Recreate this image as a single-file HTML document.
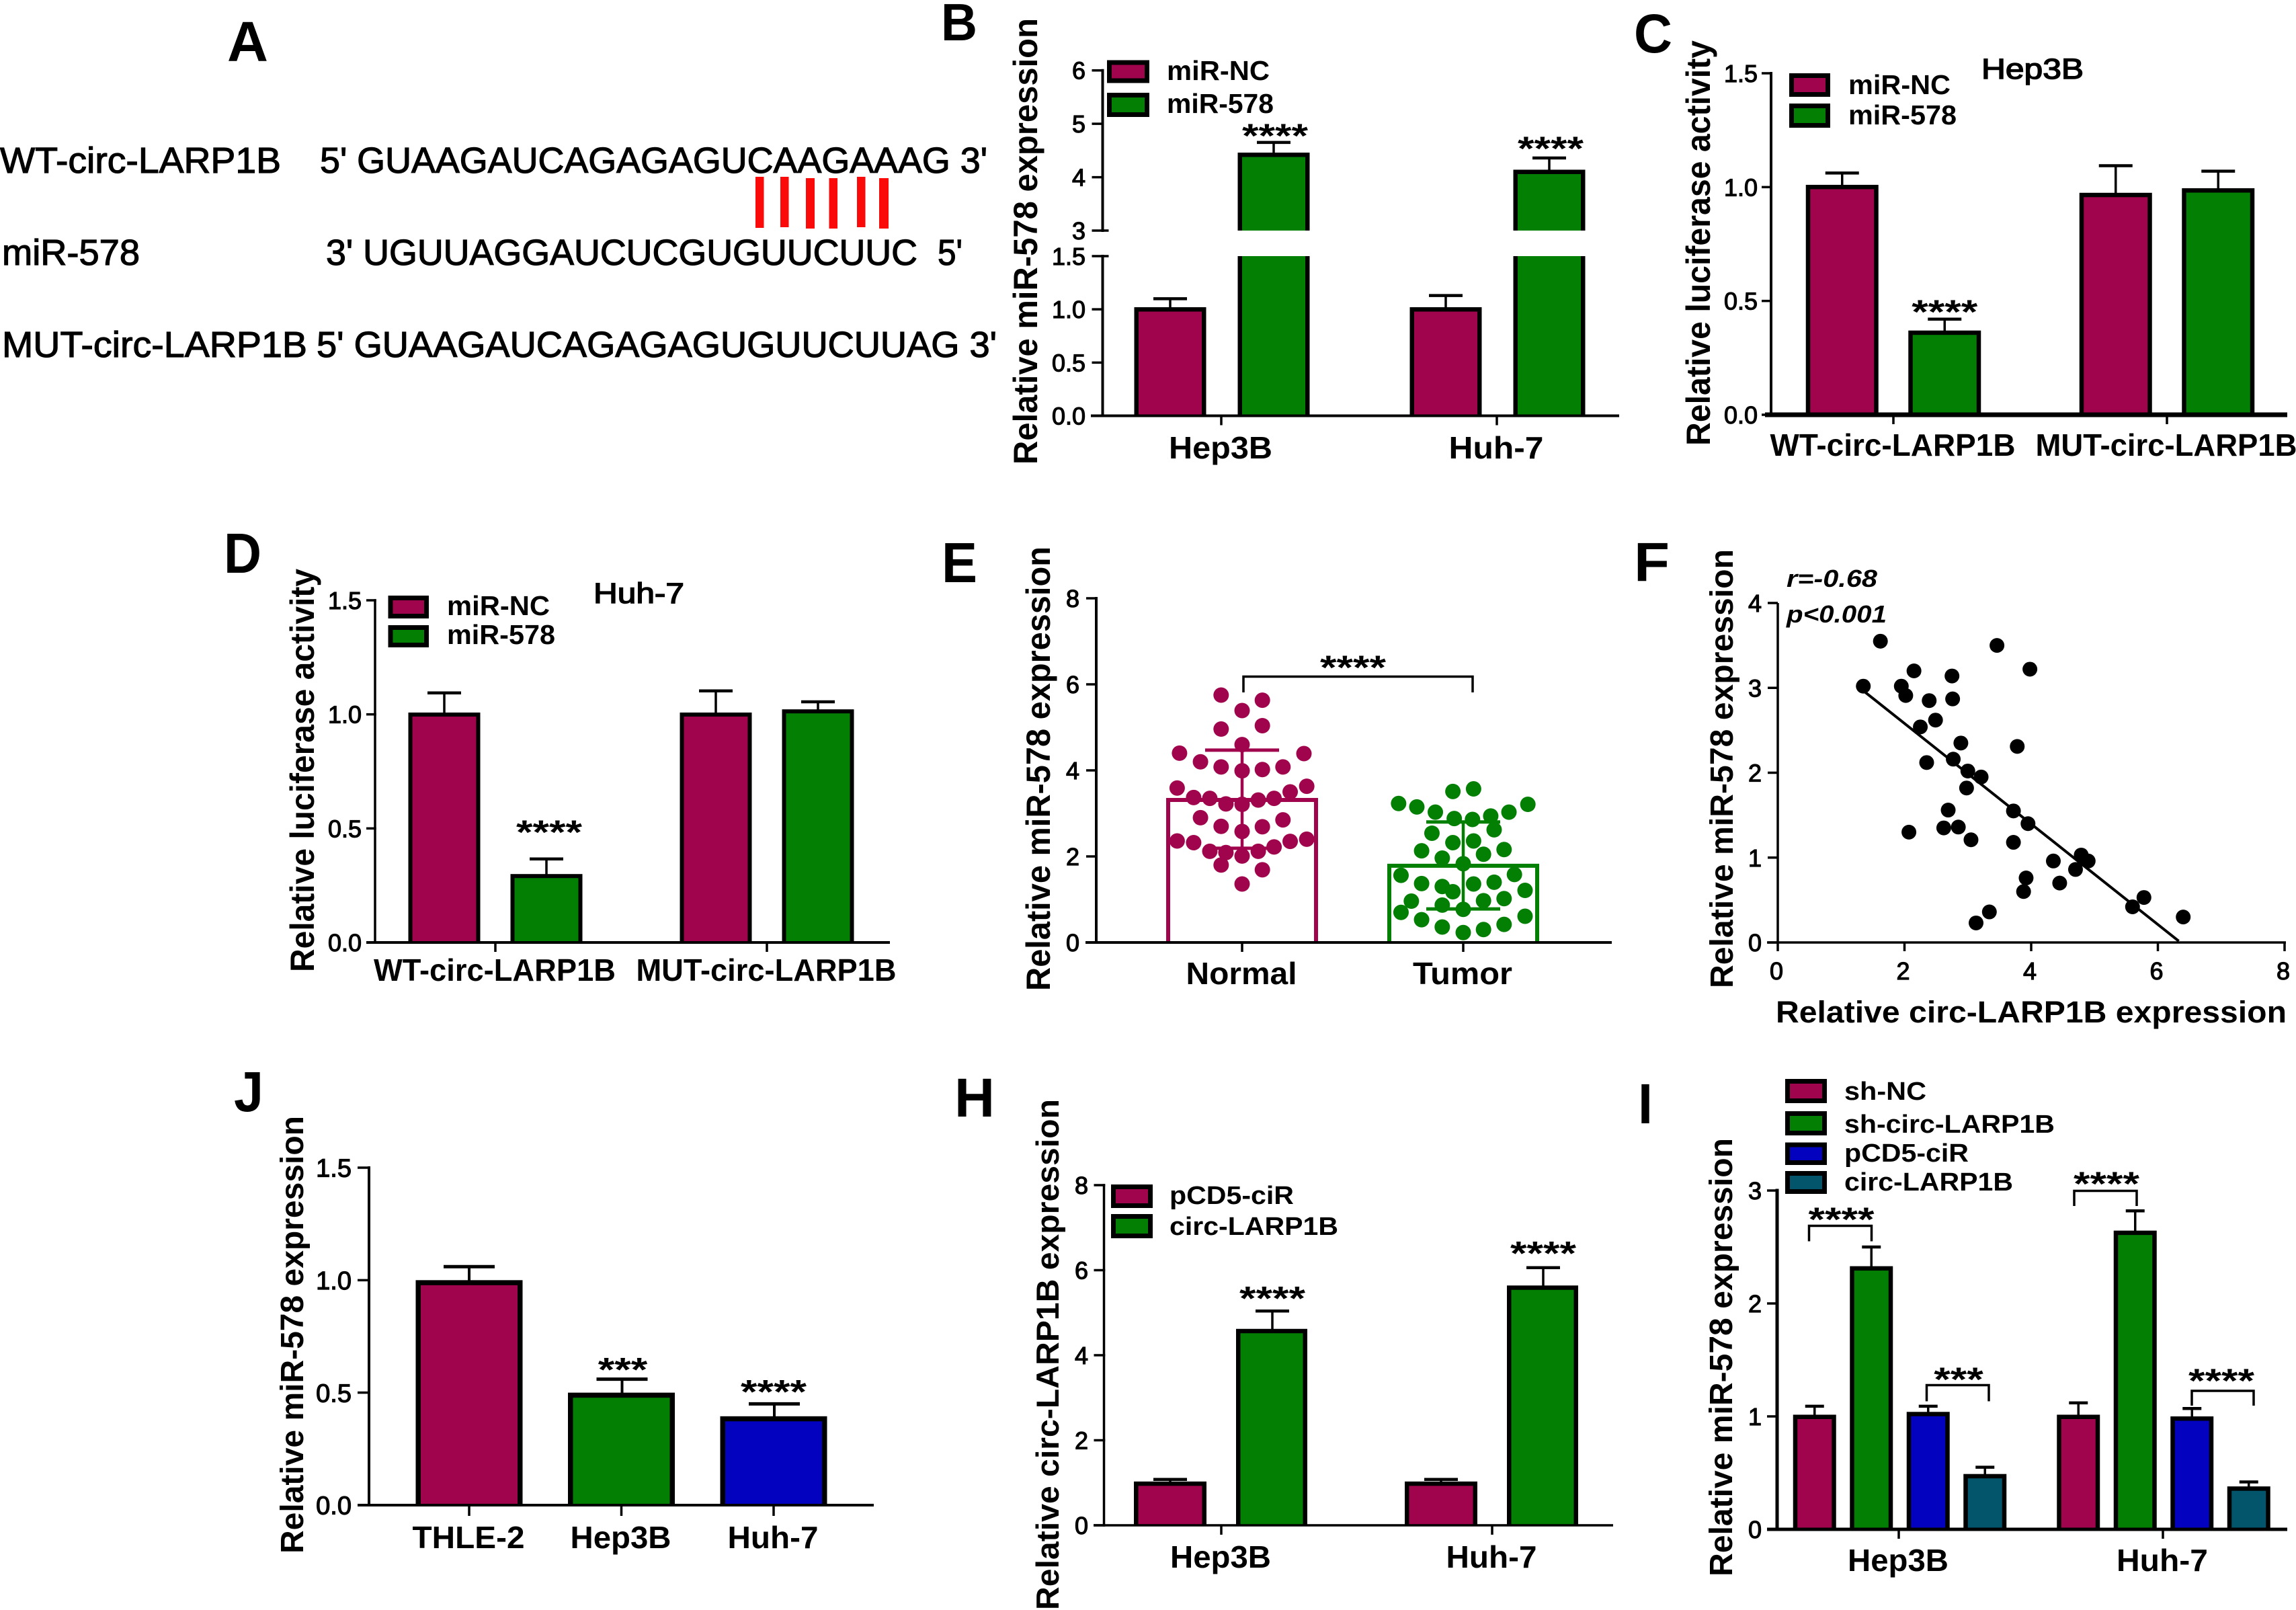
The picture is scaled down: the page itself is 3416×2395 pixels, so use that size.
<!DOCTYPE html>
<html lang="en">
<head>
<meta charset="utf-8">
<title>circ-LARP1B and miR-578 figure panels</title>
<style>
html,body{margin:0;padding:0;background:#fff}
svg{display:block}
text{font-family:"Liberation Sans",Arial,sans-serif;fill:#000}
.b{font-weight:700}
.m{font-weight:400;stroke:#000;stroke-width:1.2px}
.h{font-weight:400;stroke:#000;stroke-width:1.5px}
</style>
</head>
<body>
<svg id="figure" xmlns="http://www.w3.org/2000/svg" width="3416" height="2395" viewBox="0 0 3416 2395">
<rect x="0" y="0" width="3416" height="2395" fill="#fff"/>

<g>
<text class="b" x="338" y="91" font-size="84" textLength="61" lengthAdjust="spacingAndGlyphs">A</text>
<text class="b" x="1400" y="60" font-size="78" textLength="54" lengthAdjust="spacingAndGlyphs">B</text>
<text class="b" x="2431" y="78" font-size="82" textLength="57" lengthAdjust="spacingAndGlyphs">C</text>
<text class="b" x="333" y="852" font-size="84" textLength="56" lengthAdjust="spacingAndGlyphs">D</text>
<text class="b" x="1401" y="866" font-size="84" textLength="53" lengthAdjust="spacingAndGlyphs">E</text>
<text class="b" x="2431" y="864" font-size="82" textLength="53" lengthAdjust="spacingAndGlyphs">F</text>
<text class="b" x="348" y="1653" font-size="84" textLength="44" lengthAdjust="spacingAndGlyphs">J</text>
<text class="b" x="1420" y="1661" font-size="82" textLength="60" lengthAdjust="spacingAndGlyphs">H</text>
<text class="b" x="2437" y="1671" font-size="84" textLength="22" lengthAdjust="spacingAndGlyphs">I</text>
</g>

<g>
<text class="m" x="0" y="257" font-size="54" textLength="418" lengthAdjust="spacingAndGlyphs">WT-circ-LARP1B</text>
<text class="m" x="476" y="257" font-size="54" textLength="993" lengthAdjust="spacingAndGlyphs">5' GUAAGAUCAGAGAGUCAAGAAAG 3'</text>
<text class="m" x="3" y="394" font-size="54" textLength="205" lengthAdjust="spacingAndGlyphs">miR-578</text>
<text class="m" x="485" y="394" font-size="54" textLength="880" lengthAdjust="spacingAndGlyphs">3' UGUUAGGAUCUCGUGUUCUUC</text>
<text class="m" x="1395" y="394" font-size="54" textLength="37" lengthAdjust="spacingAndGlyphs">5'</text>
<text class="m" x="3" y="531" font-size="54" textLength="454" lengthAdjust="spacingAndGlyphs">MUT-circ-LARP1B</text>
<text class="m" x="471" y="531" font-size="54" textLength="1012" lengthAdjust="spacingAndGlyphs">5' GUAAGAUCAGAGAGUGUUCUUAG 3'</text>
<rect x="1124" y="263" width="12.5" height="76" fill="#fb0a0a"/>
<rect x="1161" y="263" width="12.5" height="75" fill="#fb0a0a"/>
<rect x="1199" y="265" width="13" height="75" fill="#fb0a0a"/>
<rect x="1233.500" y="265" width="12.500" height="75" fill="#fb0a0a"/>
<rect x="1275" y="263" width="12.500" height="75" fill="#fb0a0a"/>
<rect x="1308" y="265" width="14" height="75" fill="#fb0a0a"/>
</g>

<g>
<text class="b" transform="translate(1543,691) rotate(-90)" font-size="50" textLength="664" lengthAdjust="spacingAndGlyphs">Relative miR-578 expression</text>
<text class="b" transform="translate(2544,663) rotate(-90)" font-size="50" textLength="603" lengthAdjust="spacingAndGlyphs">Relative luciferase activity</text>
<text class="b" transform="translate(467,1446) rotate(-90)" font-size="50" textLength="600" lengthAdjust="spacingAndGlyphs">Relative luciferase activity</text>
<text class="b" transform="translate(1562,1474) rotate(-90)" font-size="50" textLength="661" lengthAdjust="spacingAndGlyphs">Relative miR-578 expression</text>
<text class="b" transform="translate(2578,1470) rotate(-90)" font-size="48" textLength="653" lengthAdjust="spacingAndGlyphs">Relative miR-578 expression</text>
<text class="b" x="2642" y="1521" font-size="45" textLength="760" lengthAdjust="spacingAndGlyphs">Relative circ-LARP1B expression</text>
<text class="b" transform="translate(451,2311) rotate(-90)" font-size="48" textLength="651" lengthAdjust="spacingAndGlyphs">Relative miR-578 expression</text>
<text class="b" transform="translate(1575,2395) rotate(-90)" font-size="47" textLength="760" lengthAdjust="spacingAndGlyphs">Relative circ-LARP1B expression</text>
<text class="b" transform="translate(2577,2345) rotate(-90)" font-size="48" textLength="652" lengthAdjust="spacingAndGlyphs">Relative miR-578 expression</text>
<text class="h" x="2948" y="117" font-size="43" textLength="152" lengthAdjust="spacingAndGlyphs">Hep3B</text>
<text class="h" x="883" y="897" font-size="43" textLength="135" lengthAdjust="spacingAndGlyphs">Huh-7</text>
<text class="b" font-style="italic" x="2658" y="873" font-size="36" textLength="135" lengthAdjust="spacingAndGlyphs">r=-0.68</text>
<text class="b" font-style="italic" x="2658" y="926" font-size="36" textLength="149" lengthAdjust="spacingAndGlyphs">p&lt;0.001</text>
</g>

<g stroke-linejoin="miter">
<rect x="1650.500" y="93" width="56" height="27" fill="#a0044c" stroke="#000" stroke-width="7"/>
<rect x="1650.500" y="141.500" width="56" height="29" fill="#037f03" stroke="#000" stroke-width="7"/>
<text class="b" x="1736" y="119" font-size="41" textLength="153" lengthAdjust="spacingAndGlyphs">miR-NC</text>
<text class="b" x="1736" y="168" font-size="41" textLength="159" lengthAdjust="spacingAndGlyphs">miR-578</text>
<rect x="2665.500" y="112.500" width="54" height="28" fill="#a0044c" stroke="#000" stroke-width="7"/>
<rect x="2665.500" y="157.500" width="54" height="29" fill="#037f03" stroke="#000" stroke-width="7"/>
<text class="b" x="2750" y="140" font-size="41" textLength="152" lengthAdjust="spacingAndGlyphs">miR-NC</text>
<text class="b" x="2750" y="185" font-size="41" textLength="161" lengthAdjust="spacingAndGlyphs">miR-578</text>
<rect x="581" y="889.500" width="53.500" height="27" fill="#a0044c" stroke="#000" stroke-width="7"/>
<rect x="581" y="933.500" width="53.500" height="26" fill="#037f03" stroke="#000" stroke-width="7"/>
<text class="b" x="665" y="915" font-size="41" textLength="153" lengthAdjust="spacingAndGlyphs">miR-NC</text>
<text class="b" x="665" y="958" font-size="41" textLength="161" lengthAdjust="spacingAndGlyphs">miR-578</text>
<rect x="1656.500" y="1765.500" width="55" height="28" fill="#a0044c" stroke="#000" stroke-width="7"/>
<rect x="1656.500" y="1809.500" width="55" height="29" fill="#037f03" stroke="#000" stroke-width="7"/>
<text class="b" x="1740" y="1791" font-size="38" textLength="185" lengthAdjust="spacingAndGlyphs">pCD5-ciR</text>
<text class="b" x="1740" y="1837" font-size="38" textLength="251" lengthAdjust="spacingAndGlyphs">circ-LARP1B</text>
<rect x="2659.500" y="1608.500" width="55" height="29" fill="#a0044c" stroke="#000" stroke-width="7"/>
<rect x="2659.500" y="1656.500" width="55" height="29" fill="#037f03" stroke="#000" stroke-width="7"/>
<rect x="2659.500" y="1703" width="55" height="26.500" fill="#0303bf" stroke="#000" stroke-width="7"/>
<rect x="2659.500" y="1745.500" width="55" height="27" fill="#02556b" stroke="#000" stroke-width="7"/>
<text class="b" x="2744" y="1636" font-size="38" textLength="122" lengthAdjust="spacingAndGlyphs">sh-NC</text>
<text class="b" x="2744" y="1685" font-size="38" textLength="313" lengthAdjust="spacingAndGlyphs">sh-circ-LARP1B</text>
<text class="b" x="2744" y="1728" font-size="38" textLength="185" lengthAdjust="spacingAndGlyphs">pCD5-ciR</text>
<text class="b" x="2744" y="1771" font-size="38" textLength="251" lengthAdjust="spacingAndGlyphs">circ-LARP1B</text>
</g>

<g id="marks"></g>
</svg>

<script>
// ---------- Panel B ----------
const panelBCategories = ['Hep3B', 'Huh-7'];
const panelBLowerTicks = [0, 0.5, 1, 1.5];
const panelBLowerTickLabels = ['0.0', '0.5', '1.0', '1.5'];
const panelBUpperTicks = [3, 4, 5, 6];
const panelBUpperTickLabels = ['3', '4', '5', '6'];
const panelBMirNc = [1.02, 1.02];
const panelBMirNcSd = [0.08, 0.11];
const panelBMir578 = [4.46, 4.14];
const panelBMir578Sd = [0.19, 0.22];
const panelBStars = ['****', '****'];

// ---------- Panel C ----------
const panelCCategories = ['WT-circ-LARP1B', 'MUT-circ-LARP1B'];
const panelCTicks = [0, 0.5, 1, 1.5];
const panelCTickLabels = ['0.0', '0.5', '1.0', '1.5'];
const panelCMirNc = [1.01, 0.975];
const panelCMirNcSd = [0.052, 0.119];
const panelCMir578 = [0.37, 0.995];
const panelCMir578Sd = [0.05, 0.075];
const panelCStars = ['****', ''];

// ---------- Panel D ----------
const panelDCategories = ['WT-circ-LARP1B', 'MUT-circ-LARP1B'];
const panelDTicks = [0, 0.5, 1, 1.5];
const panelDTickLabels = ['0.0', '0.5', '1.0', '1.5'];
const panelDMirNc = [1.008, 1.008];
const panelDMirNcSd = [0.086, 0.095];
const panelDMir578 = [0.30, 1.022];
const panelDMir578Sd = [0.066, 0.033];
const panelDStars = ['****', ''];

// ---------- Panel E ----------
const panelECategories = ['Normal', 'Tumor'];
const panelETicks = [0, 2, 4, 6, 8];
const panelETickLabels = ['0', '2', '4', '6', '8'];
const panelEMeans = [3.36, 1.83];
const panelEUpper = [4.47, 2.80];
const panelELower = [2.19, 0.78];
const panelENormalValues = [5.75,5.63,5.39,4.96,5.04,4.60,4.40,4.39,4.20,4.08,3.99,4.02,4.08,3.59,3.63,3.50,3.37,3.35,3.22,3.21,3.31,3.35,2.90,2.85,2.70,2.69,2.58,2.36,2.32,2.12,2.09,2.01,2.12,2.22,2.35,2.40,1.80,1.69,1.36];
const panelENormalSpread = [-.276,.267,0,-.276,.267,0,-.824,.814,-.548,-.276,0,.267,.538,-.855,.851,.633,-.638,-.425,-.213,0,.213,.421,-.548,.538,-.276,.267,0,-.855,-.638,-.425,-.213,0,.213,.421,.633,.851,-.276,.267,0];
const panelETumorValues = [3.51,3.57,3.23,3.15,3.03,2.88,2.86,2.94,3.03,3.21,2.54,2.62,2.32,2.36,2.13,2.16,1.96,2.05,1.83,1.56,1.58,1.37,1.30,1.18,1.36,1.40,1.21,.96,.87,.97,1.02,.70,.77,.61,.53,.36,.23,.30,.42];
const panelETumorSpread = [-.136,.136,-.851,-.611,-.367,-.118,.122,.362,.602,.851,-.412,.407,-.136,.136,-.548,.538,-.276,.267,0,-.819,.674,-.548,-.276,-.136,.136,.407,.814,-.683,-.276,.267,.538,-.819,0,.814,-.548,-.276,0,.267,.538];

// ---------- Panel F ----------
const panelFXTicks = [0, 2, 4, 6, 8];
const panelFYTicks = [0, 1, 2, 3, 4];
const panelFCirc = [1.62,3.46,3.98,2.15,2.75,1.35,1.95,2.02,2.39,2.76,2.49,2.25,2.89,3.78,2.77,2.35,3.00,3.21,2.98,2.69,3.72,3.95,2.62,2.85,2.07,3.05,3.72,4.35,4.79,4.90,4.70,3.92,4.45,3.88,5.78,5.60,6.40,3.34,3.13];
const panelFMir = [3.55,3.50,3.22,3.20,3.14,3.02,3.02,2.91,2.85,2.87,2.62,2.54,2.35,2.31,2.16,2.12,2.02,1.95,1.82,1.56,1.55,1.40,1.35,1.36,1.30,1.21,1.18,.96,1.03,.96,.86,.76,.70,.60,.53,.42,.30,.36,.23];
const panelFTrendX = [1.36, 6.33];
const panelFTrendY = [2.96, 0.016];

// ---------- Panel J ----------
const panelJCategories = ['THLE-2', 'Hep3B', 'Huh-7'];
const panelJTicks = [0, 0.5, 1, 1.5];
const panelJTickLabels = ['0.0', '0.5', '1.0', '1.5'];
const panelJValues = [1.0, 0.5, 0.395];
const panelJSd = [0.06, 0.06, 0.055];
const panelJStars = ['', '***', '****'];

// ---------- Panel H ----------
const panelHCategories = ['Hep3B', 'Huh-7'];
const panelHTicks = [0, 2, 4, 6, 8];
const panelHTickLabels = ['0', '2', '4', '6', '8'];
const panelHPcd5 = [1.03, 1.03];
const panelHPcd5Sd = [0.05, 0.05];
const panelHCirc = [4.62, 5.64];
const panelHCircSd = [0.42, 0.42];
const panelHStars = ['****', '****'];

// ---------- Panel I ----------
const panelICategories = ['Hep3B', 'Huh-7'];
const panelITicks = [0, 1, 2, 3];
const panelITickLabels = ['0', '1', '2', '3'];
const panelIShNc = [1.015, 1.015];
const panelIShNcSd = [0.075, 0.105];
const panelIShCirc = [2.33, 2.645];
const panelIShCircSd = [0.17, 0.175];
const panelIPcd5 = [1.04, 1.00];
const panelIPcd5Sd = [0.05, 0.07];
const panelICirc = [0.49, 0.38];
const panelICircSd = [0.06, 0.04];

// ---------- Colours ----------
const CRIMSON = '#a0044c', GREEN = '#037f03', BLUE = '#0303bf', TEAL = '#02556b', INK = '#000';

// ---------- Helpers ----------
const NS = 'http://www.w3.org/2000/svg';
const marks = document.getElementById('marks');

function make(tag, attrs, parent) {
  const el = document.createElementNS(NS, tag);
  for (const k in attrs) el.setAttribute(k, attrs[k]);
  parent.appendChild(el);
  return el;
}
function addGroup(name) {
  const el = make('g', {}, marks);
  
  
  return el;
}
function addLine(parent, x1, y1, x2, y2, sw, color, name) {
  const el = make('line', {x1: x1, y1: y1, x2: x2, y2: y2, stroke: color, 'stroke-width': sw}, parent);
  
  
  return el;
}
function addRect(parent, x, y, w, h, fill, name) {
  const el = make('rect', {x: x, y: y, width: w, height: Math.max(0, h), fill: fill}, parent);
  
  
  return el;
}
function addDot(parent, cx, cy, r, fill, name) {
  const el = make('circle', {cx: cx, cy: cy, r: r, fill: fill}, parent);
  
  
  return el;
}
function addText(parent, x, y, str, size, cls, anchor, width, name) {
  const attrs = {x: x, y: y, 'font-size': size, 'class': cls, 'text-anchor': anchor};
  if (width) { attrs.textLength = width; attrs.lengthAdjust = 'spacingAndGlyphs'; }
  const el = make('text', attrs, parent);
  el.textContent = str;
  
  
  return el;
}
function linear(d0, d1, p0, p1) {
  return function (v) { return p0 + (v - d0) / (d1 - d0) * (p1 - p0); };
}
function drawYAxis(g, o) {
  addLine(g, o.x, o.y(o.ticks[o.ticks.length - 1]) - o.sw / 2, o.x, o.y(o.ticks[0]) + o.sw / 2, o.sw, INK, o.name + '-line');
  o.ticks.forEach(function (t, i) {
    const py = o.y(t);
    addLine(g, o.x - o.tickLen, py, o.x + o.sw / 2 + (o.over && o.over.indexOf(t) >= 0 ? 7 : 0), py, o.tickSw || 3.5, INK, o.name + '-tick-' + o.labels[i]);
    addText(g, o.labelX, py + 0.36 * o.size, o.labels[i], o.size, 'm', 'end', 0, o.name + '-label-' + o.labels[i]);
  });
}
function drawXAxis(g, o) {
  addLine(g, o.x1, o.y, o.x2, o.y, o.sw, INK, o.name + '-line');
  o.ticks.forEach(function (px, i) {
    addLine(g, px, o.y, px, o.y + o.tickLen, 3.5, INK, o.name + '-tick-' + i);
    addText(g, px - 1, o.labelY, o.labels[i], o.size, 'b', 'middle', o.widths[i], o.name + '-label-' + i);
  });
}
function drawBar(g, o) {
  const name = o.name;
  // black outline as outer rect, colour as inner rect
  addRect(g, o.x, o.top, o.w, o.bottom - o.top, INK, name + '-outline');
  addRect(g, o.x + o.sw, o.top + (o.noTop ? 0 : o.sw), o.w - 2 * o.sw, o.bottom - o.top - (o.noTop ? 0 : o.sw), o.color, name);
}
function drawError(g, cx, py0, py1, capW, sw, name) {
  addLine(g, cx, py0, cx, py1, sw, INK, name + '-stem');
  addLine(g, cx - capW / 2, py1, cx + capW / 2, py1, sw + 1, INK, name + '-cap');
}
function drawStars(g, cx, cy, str, name) {
  addText(g, cx, cy + 26, str, 50, 'b', 'middle', str.length * 24.5, name);
}
function drawBracket(g, x1, x2, top, drop1, drop2, sw, name) {
  const el = make('path', {d: 'M' + x1 + ' ' + drop1 + 'V' + top + 'H' + x2 + 'V' + drop2, fill: 'none', stroke: INK, 'stroke-width': sw}, g);
  
  
}

// ---------- Panel B draw (broken axis) ----------
(function () {
  const g = addGroup('panel-b');
  const yLow = linear(0, 1.5, 618.5, 381);
  const yHigh = linear(3, 6, 343, 104.700);
  const y = function (v) { return v <= 1.5 ? yLow(v) : yHigh(v); };
  const catX = function (i) { return 1817 + i * 410; };
  [panelBMirNc, panelBMir578].forEach(function (vals, si) {
    const sds = si ? panelBMir578Sd : panelBMirNcSd;
    const key = si ? 'mir-578' : 'mir-nc';
    vals.forEach(function (v, ci) {
      const cx = catX(ci) + (si - 0.5) * 154 + 1;
      const x = cx - 53.5;
      const name = 'panel-b-bar-' + key + '-' + ci;
      const pe = y(v + sds[ci]);
      drawError(g, cx, y(v) + 2, pe, 50, 3.5, name + '-error');
      if (v > 1.5) {
        drawBar(g, {x: x, top: yLow(1.5), bottom: 618.5, w: 107, sw: 6.5, color: GREEN, noTop: true, name: name + '-lower'});
        drawBar(g, {x: x, top: y(v), bottom: yHigh(3), w: 107, sw: 6.5, color: GREEN, name: name + '-upper'});
      } else {
        drawBar(g, {x: x, top: y(v), bottom: 618.5, w: 107, sw: 6.5, color: si ? GREEN : CRIMSON, name: name});
      }
      if (si && panelBStars[ci]) drawStars(g, cx + 2, pe + [-19, -23][ci], panelBStars[ci], name + '-significance');
    });
  });
  drawYAxis(g, {x: 1640.500, y: yHigh, ticks: panelBUpperTicks, labels: panelBUpperTickLabels, sw: 4, tickLen: 16, labelX: 1615, size: 36, over: [3], name: 'panel-b-upper-y-axis'});
  drawYAxis(g, {x: 1640.500, y: yLow, ticks: panelBLowerTicks, labels: panelBLowerTickLabels, sw: 4, tickLen: 16, labelX: 1615, size: 36, over: [1.5], name: 'panel-b-lower-y-axis'});
  drawXAxis(g, {x1: 1623, x2: 2409, y: 618.5, sw: 4, ticks: [catX(0), catX(1)], tickLen: 14, labels: panelBCategories, labelY: 682, size: 46, widths: [154, 141], name: 'panel-b-x-axis'});
})();

// ---------- Panel C draw ----------
(function () {
  const g = addGroup('panel-c');
  const y = linear(0, 1.5, 617, 109);
  const catX = function (i) { return 2817 + i * 407; };
  const series = [[panelCMirNc, panelCMirNcSd, CRIMSON, 'mir-nc'], [panelCMir578, panelCMir578Sd, GREEN, 'mir-578']];
  series.forEach(function (s, si) {
    s[0].forEach(function (v, ci) {
      const cx = catX(ci) + (si - 0.5) * 152.5;
      const name = 'panel-c-bar-' + s[3] + '-' + ci;
      const pe = y(v + s[1][ci]);
      drawError(g, cx, y(v) + 2, pe, 50, 3.5, name + '-error');
      drawBar(g, {x: cx - 54, top: y(v), bottom: 617, w: 108, sw: 6.5, color: s[2], name: name});
      if (si && panelCStars[ci]) drawStars(g, cx, pe - 20, panelCStars[ci], name + '-significance');
    });
  });
  drawYAxis(g, {x: 2635, y: y, ticks: panelCTicks, labels: panelCTickLabels, sw: 4, tickLen: 14, labelX: 2615, size: 36, name: 'panel-c-y-axis'});
  drawXAxis(g, {x1: 2626, x2: 3403, y: 617, sw: 7, ticks: [catX(0), catX(1)], tickLen: 14, labels: panelCCategories, labelY: 678, size: 46, widths: [365, 389], name: 'panel-c-x-axis'});
})();

// ---------- Panel D draw ----------
(function () {
  const g = addGroup('panel-d');
  const y = linear(0, 1.5, 1402, 893);
  const catX = function (i) { return 737 + i * 404; };
  const series = [[panelDMirNc, panelDMirNcSd, CRIMSON, 'mir-nc'], [panelDMir578, panelDMir578Sd, GREEN, 'mir-578']];
  series.forEach(function (s, si) {
    s[0].forEach(function (v, ci) {
      const cx = catX(ci) + (si - 0.5) * 152;
      const name = 'panel-d-bar-' + s[3] + '-' + ci;
      const pe = y(v + s[1][ci]);
      drawError(g, cx, y(v) + 2, pe, 50, 3.5, name + '-error');
      drawBar(g, {x: cx - 53.5, top: y(v), bottom: 1402, w: 107, sw: 6, color: s[2], name: name});
      if (si && panelDStars[ci]) drawStars(g, cx + 4, pe - 49, panelDStars[ci], name + '-significance');
    });
  });
  drawYAxis(g, {x: 558, y: y, ticks: panelDTicks, labels: panelDTickLabels, sw: 3.5, tickLen: 13, labelX: 538, size: 36, name: 'panel-d-y-axis'});
  drawXAxis(g, {x1: 545, x2: 1324, y: 1402, sw: 4, ticks: [catX(0), catX(1)], tickLen: 14, labels: panelDCategories, labelY: 1459, size: 46, widths: [360, 387], name: 'panel-d-x-axis'});
})();

// ---------- Panel E draw ----------
(function () {
  const g = addGroup('panel-e');
  const y = linear(0, 8, 1402, 890);
  const catX = function (i) { return 1848 + i * 329; };
  const colors = [CRIMSON, GREEN];
  const halfBar = 113;
  panelEMeans.forEach(function (m, i) {
    const cx = catX(i);
    const top = y(m);
    const bar = make('path', {d: 'M' + (cx - halfBar + 3) + ' 1402V' + (top + 3) + 'H' + (cx + halfBar - 3) + 'V1402', fill: '#fff', stroke: colors[i], 'stroke-width': 6}, g);
    
    
    addLine(g, cx, y(panelEUpper[i]), cx, y(panelELower[i]), 4.5, colors[i], 'panel-e-error-stem-' + panelECategories[i]);
    addLine(g, cx - 55, y(panelEUpper[i]), cx + 55, y(panelEUpper[i]), 5, colors[i], 'panel-e-error-upper-' + panelECategories[i]);
    addLine(g, cx - 55, y(panelELower[i]), cx + 55, y(panelELower[i]), 5, colors[i], 'panel-e-error-lower-' + panelECategories[i]);
  });
  panelENormalValues.forEach(function (v, i) {
    addDot(g, catX(0) + panelENormalSpread[i] * halfBar, y(v), 11.5, CRIMSON, 'panel-e-normal-dot-' + i);
  });
  panelETumorValues.forEach(function (v, i) {
    addDot(g, catX(1) + panelETumorSpread[i] * halfBar, y(v), 11.5, GREEN, 'panel-e-tumor-dot-' + i);
  });
  drawYAxis(g, {x: 1631, y: y, ticks: panelETicks, labels: panelETickLabels, sw: 4, tickLen: 15, labelX: 1606, size: 36, name: 'panel-e-y-axis'});
  drawXAxis(g, {x1: 1615, x2: 2398, y: 1402, sw: 4, ticks: [catX(0), catX(1)], tickLen: 14, labels: panelECategories, labelY: 1464, size: 46, widths: [165, 148], name: 'panel-e-x-axis'});
  drawBracket(g, 1850, 2191, 1006.5, 1030, 1030, 3.5, 'panel-e-bracket');
  drawStars(g, 2013, 984, '****', 'panel-e-significance');
})();

// ---------- Panel F draw ----------
(function () {
  const g = addGroup('panel-f');
  const x = linear(0, 8, 2645, 3399);
  const y = linear(0, 4, 1402, 897);
  panelFCirc.forEach(function (c, i) {
    addDot(g, x(c), y(panelFMir[i]), 11, INK, 'panel-f-point-' + i);
  });
  addLine(g, x(panelFTrendX[0]), y(panelFTrendY[0]), x(panelFTrendX[1]), y(panelFTrendY[1]), 4, INK, 'panel-f-trend-line');
  addLine(g, 2645, 897, 2645, 1403, 3.5, INK, 'panel-f-y-axis-line');
  addLine(g, 2629, 1402, 3401, 1402, 3.5, INK, 'panel-f-x-axis-line');
  panelFYTicks.forEach(function (t) {
    addLine(g, 2630, y(t), 2645, y(t), 3.5, INK, 'panel-f-y-tick-' + t);
    addText(g, 2621, y(t) + 13, String(t), 36, 'm', 'end', 0, 'panel-f-y-label-' + t);
  });
  panelFXTicks.forEach(function (t) {
    addLine(g, x(t), 1402, x(t), 1415, 3.5, INK, 'panel-f-x-tick-' + t);
    addText(g, x(t) - 2, 1457, String(t), 36, 'm', 'middle', 0, 'panel-f-x-label-' + t);
  });
})();

// ---------- Panel J draw ----------
(function () {
  const g = addGroup('panel-j');
  const y = linear(0, 1.5, 2239, 1737);
  const catX = function (i) { return 698 + i * 226.5; };
  const colors = [CRIMSON, GREEN, BLUE];
  const starDy = [0, -23, -27];
  panelJValues.forEach(function (v, i) {
    const cx = catX(i);
    const name = 'panel-j-bar-' + panelJCategories[i];
    const pe = y(v + panelJSd[i]);
    drawError(g, cx + (i ? 1 : 0), y(v) + 2, pe, 76, 4, name + '-error');
    drawBar(g, {x: cx - 79.5, top: y(v), bottom: 2239, w: 159, sw: 7.5, color: colors[i], name: name});
    if (panelJStars[i]) drawStars(g, cx + 4 - i * 2, pe + starDy[i], panelJStars[i], name + '-significance');
  });
  drawYAxis(g, {x: 549, y: y, ticks: panelJTicks, labels: panelJTickLabels, sw: 4, tickLen: 17, labelX: 523, size: 38, name: 'panel-j-y-axis'});
  drawXAxis(g, {x1: 532, x2: 1300, y: 2239, sw: 4, ticks: [catX(0), catX(1), catX(2)], tickLen: 16, labels: panelJCategories, labelY: 2303, size: 46, widths: [167, 150, 135], name: 'panel-j-x-axis'});
})();

// ---------- Panel H draw ----------
(function () {
  const g = addGroup('panel-h');
  const y = linear(0, 8, 2269, 1763);
  const catX = function (i) { return 1817 + i * 403; };
  const series = [[panelHPcd5, panelHPcd5Sd, CRIMSON, 'pcd5'], [panelHCirc, panelHCircSd, GREEN, 'circ']];
  const starDy = [-27.5, -30];
  series.forEach(function (s, si) {
    s[0].forEach(function (v, ci) {
      const cx = catX(ci) + (si - 0.5) * 152;
      const name = 'panel-h-bar-' + s[3] + '-' + ci;
      const pe = y(v + s[1][ci]);
      drawError(g, cx, y(v) + 2, pe, 50, 3.5, name + '-error');
      drawBar(g, {x: cx - 54, top: y(v), bottom: 2269, w: 108 - si * 2, sw: 6.5, color: s[2], name: name});
      if (si && panelHStars[ci]) drawStars(g, cx, pe + starDy[ci], panelHStars[ci], name + '-significance');
    });
  });
  drawYAxis(g, {x: 1642.500, y: y, ticks: panelHTicks, labels: panelHTickLabels, sw: 3.5, tickLen: 15, labelX: 1619, size: 36, name: 'panel-h-y-axis'});
  drawXAxis(g, {x1: 1627, x2: 2400, y: 2269, sw: 3.5, ticks: [catX(0), catX(1)], tickLen: 14, labels: panelHCategories, labelY: 2332, size: 46, widths: [150, 135], name: 'panel-h-x-axis'});
})();

// ---------- Panel I draw ----------
(function () {
  const g = addGroup('panel-i');
  const y = linear(0, 3, 2275, 1771);
  const catX = function (i) { return 2826.5 + i * 392.5; };
  const series = [[panelIShNc, panelIShNcSd, CRIMSON, 'sh-nc'], [panelIShCirc, panelIShCircSd, GREEN, 'sh-circ'], [panelIPcd5, panelIPcd5Sd, BLUE, 'pcd5'], [panelICirc, panelICircSd, TEAL, 'circ']];
  series.forEach(function (s, si) {
    s[0].forEach(function (v, ci) {
      const cx = catX(ci) + (si - 1.5) * 84.5;
      const name = 'panel-i-bar-' + s[3] + '-' + ci;
      drawError(g, cx, y(v) + 2, y(v + s[1][ci]), 28, 3.5, name + '-error');
      drawBar(g, {x: cx - 32, top: y(v), bottom: 2275, w: 64, sw: 6.5, color: s[2], name: name});
    });
  });
  drawYAxis(g, {x: 2644, y: y, ticks: panelITicks, labels: panelITickLabels, sw: 5, tickLen: 15, labelX: 2621, size: 36, name: 'panel-i-y-axis'});
  drawXAxis(g, {x1: 2629, x2: 3403, y: 2275, sw: 5, ticks: [2825, 3218], tickLen: 14, labels: panelICategories, labelY: 2337, size: 46, widths: [150, 136], name: 'panel-i-x-axis'});
  drawBracket(g, 2691.500, 2784.500, 1823.500, 1846.500, 1846.500, 3.5, 'panel-i-bracket-hep3b-sh');
  drawBracket(g, 2866.500, 2959, 2060.500, 2084.500, 2084.500, 3.5, 'panel-i-bracket-hep3b-circ');
  drawBracket(g, 3086, 3179, 1771.500, 1794, 1794, 3.5, 'panel-i-bracket-huh7-sh');
  drawBracket(g, 3261, 3353, 2069, 2091, 2091, 3.5, 'panel-i-bracket-huh7-circ');
  drawStars(g, 2739.500, 1805, '****', 'panel-i-significance-hep3b-sh');
  drawStars(g, 2914, 2043, '***', 'panel-i-significance-hep3b-circ');
  drawStars(g, 3134, 1752, '****', 'panel-i-significance-huh7-sh');
  drawStars(g, 3305, 2045, '****', 'panel-i-significance-huh7-circ');
})();
</script>
</body>
</html>
